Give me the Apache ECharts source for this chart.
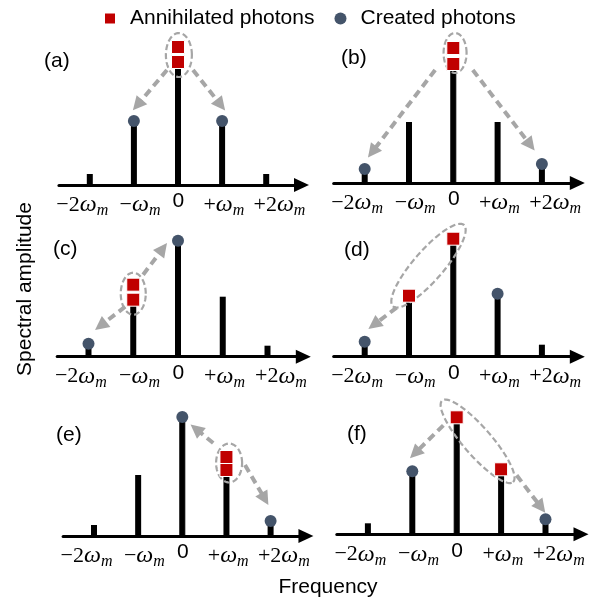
<!DOCTYPE html>
<html lang="en">

<head>
    <meta charset="UTF-8">
    <title>Spectral amplitude</title>
    <script src="https://cdn.jsdelivr.net/npm/echarts@6/dist/echarts.min.js"></script>
    <style>
        html, body { margin: 0; padding: 0; background: #fff; }
    </style>
</head>

<body>
    <div id="main" style="width: 605px;height: 604px;"></div>
    <script>
        // sideband frequencies (units of omega_m) and tick labels
        var freq = [-2, -1, 0, 1, 2]
        var tickText = ['−2ω_m', '−ω_m', '0', '+ω_m', '+2ω_m']
        var tickPos = [-2.17, -0.86, 0.01, 1.04, 2.3] // labels sit as one text row, not exactly under stems
        var panelNames = ['(a)', '(b)', '(c)', '(d)', '(e)', '(f)']

        // stem heights, one array per panel
        var ampA = [11, 64, 121, 64, 11]
        var ampB = [14, 61, 117, 61, 19]
        var ampC = [13, 56, 116, 60, 11]
        var ampD = [15, 61, 117, 63, 12]
        var ampE = [11, 61, 119, 66, 15]
        var ampF = [11, 63, 116, 65, 15]
        var amp = [ampA, ampB, ampC, ampD, ampE, ampF]

        // annihilated photons (squares)
        var annihilated = [
            [[0, 123], [0, 138]],
            [[0, 119], [0, 135]],
            [[-1, 57], [-1, 72]],
            [[-1, 61], [0, 118]],
            [[1, 66], [1, 79]],
            [[0, 117], [1, 65]]
        ]
        // created photons (circles)
        var created = [
            [[-1, 64], [1, 64]],
            [[-2, 14], [2, 19]],
            [[-2, 13], [0, 116]],
            [[-2, 15], [1, 63]],
            [[0, 119], [2, 15]],
            [[-1, 63], [2, 15]]
        ]
        // dashed arrows: [from, to]
        var arrows = [
            [[[-0.25, 115], [-0.92, 80]], [[0.34, 115], [0.97, 80]]],
            [[[-0.41, 113], [-1.83, 31]], [[0.44, 113], [1.74, 38]]],
            [[[-0.78, 82], [-0.34, 108]], [[-1.18, 50], [-1.73, 31]]],
            [[[-1.28, 49], [-1.79, 32]]],
            [[[0.70, 93], [0.31, 107]], [[1.42, 71], [1.87, 37]]],
            [[[-0.30, 109], [-0.94, 81]], [[1.35, 59], [1.90, 27]]]
        ]
        // dashed loops round the annihilated pairs (centre in data units)
        var loops = [[0.02, 130], [0.04, 130], [-1.0, 63], [-0.56, 91], [1.06, 73], [0.47, 93]]
        var loopShape = [
            { rx: 13, ry: 22, rot: 0 },
            { rx: 11.5, ry: 20, rot: 0 },
            { rx: 12.5, ry: 21, rot: 0 },
            { rx: 54, ry: 15, rot: 49 },
            { rx: 13, ry: 19.5, rot: 0 },
            { rx: 54, ry: 14, rot: -49 }
        ]

        // panel placement: pixel of zero, px per omega_m, baseline y, label position
        var boxes = [
            { x0: 178, s: 44.1, y0: 185, lx: 44, ly: 51 },
            { x0: 453.3, s: 44.3, y0: 183, lx: 341, ly: 48 },
            { x0: 178, s: 44.75, y0: 356.7, lx: 53, ly: 239 },
            { x0: 453.3, s: 44.3, y0: 356.7, lx: 344, ly: 240 },
            { x0: 182.3, s: 44.15, y0: 536, lx: 56, ly: 425 },
            { x0: 456.7, s: 44.4, y0: 534.3, lx: 347, ly: 424 }
        ]

        var XMIN = -2.7, XMAX = 2.8, YMAX = 160
        var grey = '#A6A6A6'

        function tickFmt(v) {
            var i = 0
            for (var k = 0; k < tickPos.length; k++) {
                if (Math.abs(tickPos[k] - v) < 1e-3) i = k
            }
            var t = tickText[i]
            if (t === '0') return '{z|0}'
            var pre = t.split('ω_m')[0]
            return (pre ? '{n|' + pre + '}' : '') + '{w|ω}{s|m}'
        }

        var grids = [], xAxes = [], yAxes = [], series = [], titles = []

        boxes.forEach(function(b, i) {
            grids.push({
                left: b.x0 + XMIN * b.s,
                width: (XMAX - XMIN) * b.s,
                top: b.y0 - YMAX,
                height: YMAX
            })
            xAxes.push({
                type: 'value',
                gridIndex: i,
                min: XMIN,
                max: XMAX,
                splitLine: { show: false },
                axisTick: { show: false },
                axisLine: {
                    onZero: false,
                    symbol: ['none', 'triangle'],
                    symbolSize: [14, 15],
                    lineStyle: { color: '#000', width: 3 }
                },
                axisLabel: {
                    customValues: tickPos,
                    margin: 6,
                    formatter: tickFmt,
                    rich: {
                        n: { fontFamily: 'Liberation Serif', fontSize: 22, color: '#000' },
                        w: { fontFamily: 'Liberation Serif', fontStyle: 'italic', fontSize: 24, color: '#000' },
                        s: { fontFamily: 'Liberation Serif', fontStyle: 'italic', fontSize: 16, color: '#000', padding: [12, 0, 0, 0] },
                        z: { fontFamily: 'Liberation Sans', fontSize: 21, color: '#000' }
                    }
                }
            })
            yAxes.push({ type: 'value', gridIndex: i, min: 0, max: YMAX, show: false })
            titles.push({
                text: panelNames[i],
                left: b.lx,
                top: b.ly,
                padding: 0,
                textStyle: { fontFamily: 'Liberation Sans', fontSize: 21, fontWeight: 'normal', color: '#000' }
            })

            series.push({
                type: 'bar',
                xAxisIndex: i,
                yAxisIndex: i,
                barWidth: 6,
                silent: true,
                z: 2,
                itemStyle: { color: '#000' },
                data: freq.map(function(f, k) {
                    if (f === 0) return { value: [f, amp[i][k]], itemStyle: { borderColor: '#000', borderWidth: 1 } }
                    return [f, amp[i][k]]
                })
            })
            series.push({
                type: 'custom',
                xAxisIndex: i,
                yAxisIndex: i,
                silent: true,
                z: 3,
                data: [loops[i]],
                renderItem: function(params, api) {
                    var p = api.coord([api.value(0), api.value(1)])
                    var sh = loopShape[i]
                    var a = sh.rot * Math.PI / 180
                    var ca = Math.cos(a), sa = Math.sin(a)
                    var pts = []
                    for (var k = 0; k < 72; k++) {
                        var t = k / 72 * 2 * Math.PI
                        var ex = sh.rx * Math.cos(t), ey = sh.ry * Math.sin(t)
                        pts.push([p[0] + ex * ca - ey * sa, p[1] - (ex * sa + ey * ca)])
                    }
                    return {
                        type: 'polygon',
                        shape: { points: pts },
                        style: { fill: 'none', stroke: grey, lineWidth: 2.2, lineDash: [6, 3] }
                    }
                }
            })
            series.push({
                type: 'lines',
                coordinateSystem: 'cartesian2d',
                xAxisIndex: i,
                yAxisIndex: i,
                silent: true,
                z: 4,
                symbol: ['none', 'triangle'],
                symbolSize: 14,
                lineStyle: { color: grey, width: 4, type: [8, 5], opacity: 1 },
                data: arrows[i].map(function(a) { return { coords: a } })
            })
            series.push({
                type: 'scatter',
                name: 'Annihilated photons',
                xAxisIndex: i,
                yAxisIndex: i,
                symbol: 'rect',
                symbolSize: 13,
                z: 5,
                itemStyle: { color: '#C00000', borderColor: '#fff', borderWidth: 1, opacity: 1 },
                data: annihilated[i]
            })
            series.push({
                type: 'scatter',
                name: 'Created photons',
                xAxisIndex: i,
                yAxisIndex: i,
                symbol: 'circle',
                symbolSize: 12,
                z: 5,
                itemStyle: { color: '#44546A', opacity: 1 },
                data: created[i]
            })
        })

        var mCharts = echarts.init(document.getElementById('main'))
        var option = {
            animation: false,
            backgroundColor: '#fff',
            title: titles,
            legend: {
                left: 98,
                top: 3,
                itemWidth: 12,
                itemHeight: 12,
                itemGap: 20,
                textStyle: { fontFamily: 'Liberation Sans', fontSize: 21, color: '#000', padding: [0, 0, 0, 9] },
                data: [{ name: 'Annihilated photons', icon: 'rect' }, { name: 'Created photons', icon: 'circle' }]
            },
            grid: grids,
            xAxis: xAxes,
            yAxis: yAxes,
            series: series,
            graphic: [{
                type: 'text',
                x: 25,
                y: 289,
                rotation: Math.PI / 2,
                style: { text: 'Spectral amplitude', font: '21px "Liberation Sans"', fill: '#000', align: 'center', verticalAlign: 'middle' }
            }, {
                type: 'text',
                x: 328,
                y: 587,
                style: { text: 'Frequency', font: '21px "Liberation Sans"', fill: '#000', align: 'center', verticalAlign: 'middle' }
            }]
        }
        mCharts.setOption(option)
    </script>
</body>

</html>
